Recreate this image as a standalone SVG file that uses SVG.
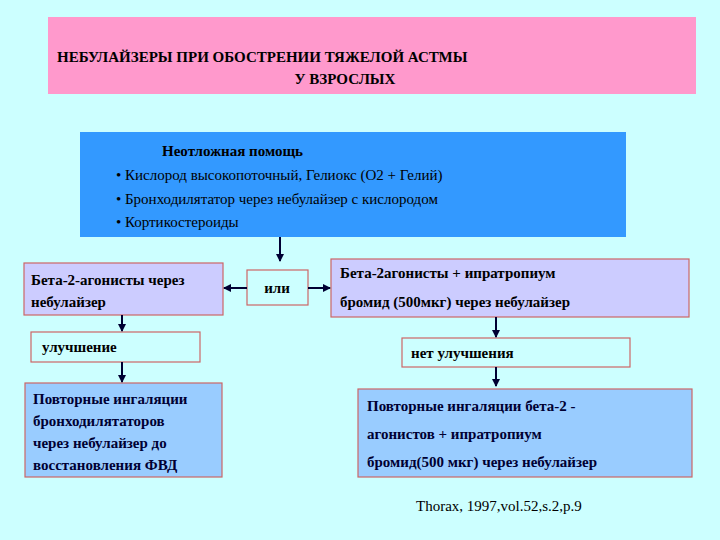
<svg xmlns="http://www.w3.org/2000/svg" width="720" height="540" viewBox="0 0 720 540">
<defs>
<marker id="ah" markerWidth="8" markerHeight="8" refX="7" refY="4" orient="auto" markerUnits="userSpaceOnUse"><path d="M0,0 L8,4 L0,8 Z" fill="#000033"/></marker>
<style>
text{font-family:"Liberation Serif",serif;font-size:15px;fill:#000}
.b{font-weight:bold}
.n{fill:#000033}
.box{stroke:#CC6666;stroke-width:1.2}
.c{stroke:#000033;stroke-width:2;fill:none;marker-end:url(#ah)}
</style>
</defs>
<rect width="720" height="540" fill="#CCFFFF"/>
<g id="title"><rect x="48" y="17" width="648" height="77" fill="#FF99CC"/>
<text class="b" x="57" y="62" font-size="16">НЕБУЛАЙЗЕРЫ ПРИ ОБОСТРЕНИИ ТЯЖЕЛОЙ АСТМЫ</text>
<text class="b" x="345" y="84" font-size="16" text-anchor="middle">У ВЗРОСЛЫХ</text></g>
<g id="emergency"><rect x="80" y="132" width="546" height="105" fill="#3399FF"/>
<text class="b" x="162" y="156" font-size="16">Неотложная помощь</text>
<text x="116" y="180" font-size="16">• Кислород высокопоточный, Гелиокс (О2 + Гелий)</text>
<text x="116" y="204" font-size="16">• Бронходилятатор через небулайзер с кислородом</text>
<text x="116" y="227" font-size="16">• Кортикостероиды</text></g>
<g id="left1"><rect class="box" x="24" y="263" width="199" height="52" fill="#CCCCFF"/>
<text class="b" x="31" y="285">Бета-2-агонисты через</text>
<text class="b" x="31" y="307">небулайзер</text></g>
<g id="or"><rect class="box" x="247" y="270" width="61" height="35" fill="#CCFFFF"/>
<text class="b" x="277" y="293" text-anchor="middle">или</text></g>
<g id="right1"><rect class="box" x="331" y="259" width="358" height="58" fill="#CCCCFF"/>
<text class="b" x="340" y="278">Бета-2агонисты + ипратропиум</text>
<text class="b" x="340" y="307">бромид (500мкг) через небулайзер</text></g>
<g id="improve"><rect class="box" x="31" y="332" width="169" height="30" fill="#CCFFFF"/>
<text class="b" x="42" y="352">улучшение</text></g>
<g id="noimprove"><rect class="box" x="402" y="338" width="228" height="29" fill="#CCFFFF"/>
<text class="b" x="411" y="358">нет улучшения</text></g>
<g id="left2"><rect class="box" x="25" y="383" width="197" height="94" fill="#99CCFF"/>
<text class="b n" x="33" y="404">Повторные ингаляции</text>
<text class="b n" x="33" y="426">бронходилятаторов</text>
<text class="b n" x="33" y="448">через небулайзер до</text>
<text class="b n" x="33" y="470">восстановления ФВД</text></g>
<g id="right2"><rect class="box" x="358" y="389" width="334" height="88" fill="#99CCFF"/>
<text class="b n" x="367" y="411">Повторные ингаляции бета-2 -</text>
<text class="b n" x="367" y="439">агонистов  + ипратропиум</text>
<text class="b n" x="367" y="467">бромид(500 мкг)  через небулайзер</text></g>
<text x="416" y="511" font-size="12">Thorax, 1997,vol.52,s.2,p.9</text>
<g id="connectors">
<path class="c" d="M280,237 V261"/>
<path class="c" d="M247,288 H224"/>
<path class="c" d="M308,288 H330"/>
<path class="c" d="M122,315 V331"/>
<path class="c" d="M122,362 V382"/>
<path class="c" d="M496,317 V337"/>
<path class="c" d="M496,367 V386"/>
</g>
</svg>
